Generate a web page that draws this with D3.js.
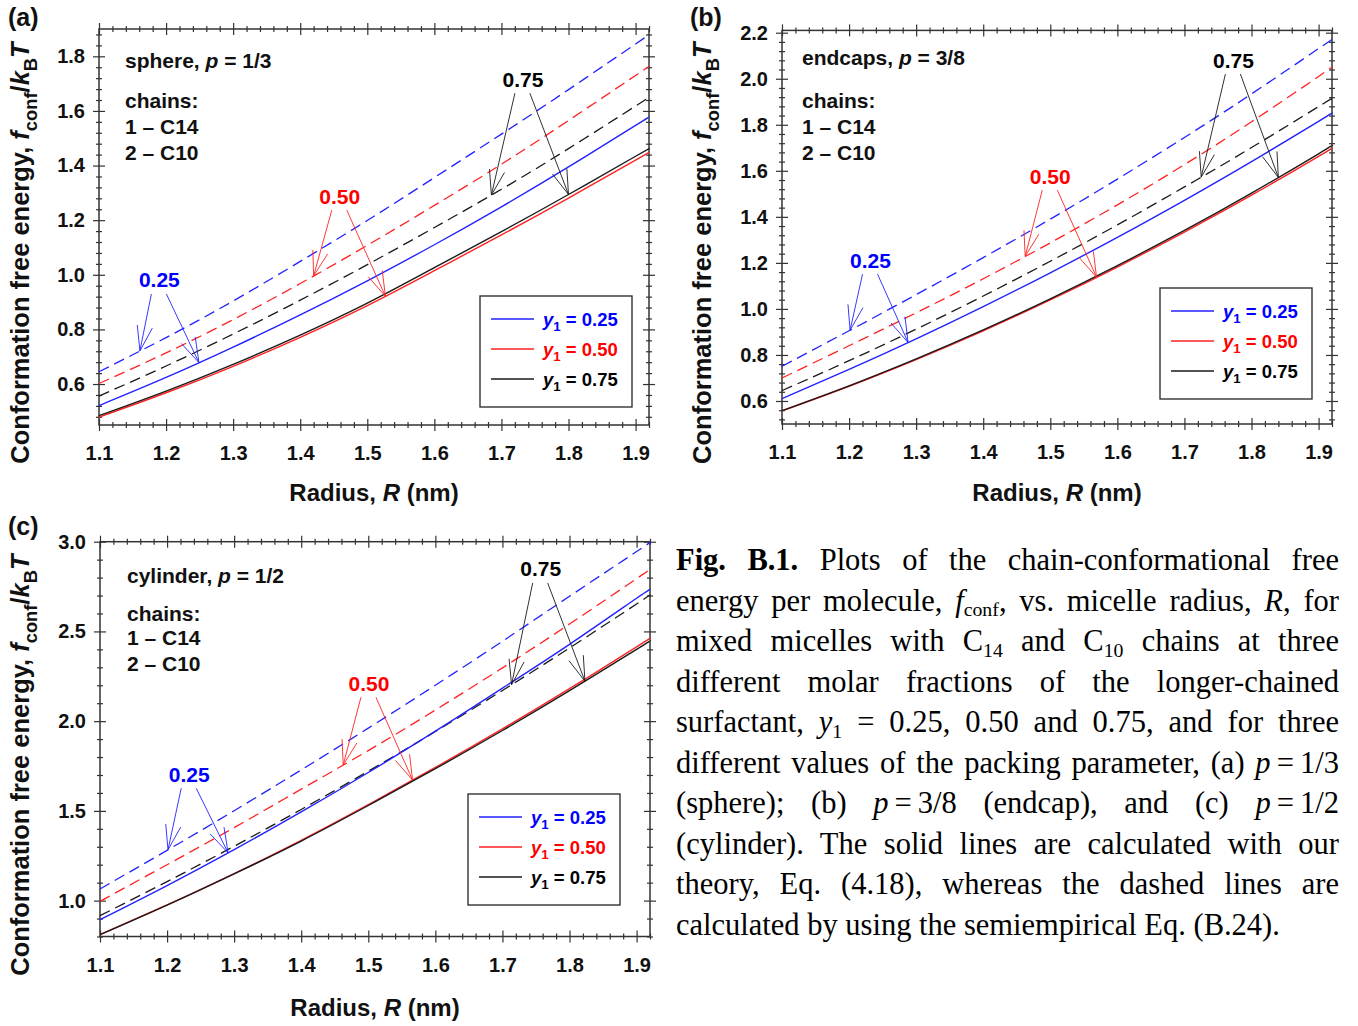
<!DOCTYPE html>
<html lang="en">
<head>
<meta charset="UTF-8">
<title>Fig. B.1 chain-conformational free energy</title>
<script src="https://d3js.org/d3.v7.min.js"></script>
<style>
  body { margin: 0; background: #fff; }
  #fig { position: absolute; left: 0; top: 0; }
  #caption {
    position: absolute; left: 676px; top: 540px; width: 663px;
    font-family: "Liberation Serif", "Times New Roman", serif; font-size: 30.5px; color: #000;
  }
  #caption .ln { height: 40.5px; line-height: 40.5px; text-align: justify; text-align-last: justify; }
  #caption .ln.last { text-align: left; text-align-last: left; }
  #caption .sb { font-size: 0.65em; position: relative; top: 0.28em; }
</style>
</head>
<body>
<svg id="fig"></svg>
<div id="caption"></div>
<script>
// radius grid, nm
const radius = [1.1, 1.2, 1.3, 1.4, 1.5, 1.6, 1.7, 1.8, 1.9, 1.92];
const y1Levels = ['0.25', '0.50', '0.75'];
const xTicks = [1.1, 1.2, 1.3, 1.4, 1.5, 1.6, 1.7, 1.8, 1.9];

// (a) sphere, p = 1/3
const sphereSolid25 = [0.521, 0.624, 0.735, 0.853, 0.978, 1.110, 1.249, 1.395, 1.547, 1.578];
const sphereSolid50 = [0.479, 0.568, 0.665, 0.771, 0.887, 1.015, 1.146, 1.281, 1.420, 1.448];
const sphereSolid75 = [0.484, 0.574, 0.672, 0.779, 0.896, 1.026, 1.158, 1.294, 1.434, 1.462];
const sphereDash25 = [0.645, 0.770, 0.904, 1.049, 1.199, 1.356, 1.515, 1.678, 1.845, 1.879];
const sphereDash50 = [0.602, 0.714, 0.836, 0.968, 1.108, 1.254, 1.405, 1.565, 1.730, 1.763];
const sphereDash75 = [0.556, 0.666, 0.783, 0.907, 1.037, 1.173, 1.313, 1.462, 1.618, 1.650];
const sphereYTicks = [0.6, 0.8, 1.0, 1.2, 1.4, 1.6, 1.8];
// label R, label value, R of dashed-arrow tip, R of solid-arrow tip
const sphereNotes = [[1.190, 0.981, 1.161, 1.249], [1.459, 1.288, 1.420, 1.527], [1.732, 1.716, 1.685, 1.800]];

// (b) endcaps, p = 3/8
const endSolid25 = [0.610, 0.737, 0.870, 1.010, 1.157, 1.311, 1.472, 1.640, 1.815, 1.851];
const endSolid50 = [0.557, 0.664, 0.780, 0.905, 1.039, 1.182, 1.334, 1.494, 1.663, 1.699];
const endSolid75 = [0.558, 0.666, 0.783, 0.909, 1.044, 1.188, 1.341, 1.503, 1.674, 1.710];
const endDash25 = [0.751, 0.905, 1.062, 1.223, 1.390, 1.564, 1.745, 1.934, 2.131, 2.171];
const endDash50 = [0.700, 0.840, 0.983, 1.131, 1.287, 1.452, 1.627, 1.813, 2.010, 2.051];
const endDash75 = [0.645, 0.775, 0.912, 1.056, 1.207, 1.365, 1.530, 1.701, 1.879, 1.915];
const endYTicks = [0.6, 0.8, 1.0, 1.2, 1.4, 1.6, 1.8, 2.0, 2.2];
const endNotes = [[1.232, 1.212, 1.2015, 1.288], [1.500, 1.577, 1.4626, 1.569], [1.773, 2.081, 1.725, 1.840]];

// (c) cylinder, p = 1/2
const cylSolid25 = [0.894, 1.084, 1.284, 1.494, 1.714, 1.944, 2.184, 2.428, 2.685, 2.733];
const cylSolid50 = [0.810, 0.976, 1.151, 1.336, 1.535, 1.742, 1.957, 2.181, 2.414, 2.463];
const cylSolid75 = [0.810, 0.975, 1.149, 1.332, 1.530, 1.735, 1.948, 2.170, 2.400, 2.447];
const cylDash25 = [1.065, 1.280, 1.501, 1.728, 1.961, 2.200, 2.445, 2.696, 2.945, 2.996];
const cylDash50 = [0.996, 1.200, 1.407, 1.621, 1.836, 2.062, 2.297, 2.541, 2.794, 2.846];
const cylDash75 = [0.916, 1.106, 1.303, 1.508, 1.721, 1.942, 2.171, 2.408, 2.653, 2.704];
const cylYTicks = [1.0, 1.5, 2.0, 2.5, 3.0];
const cylNotes = [[1.233, 1.704, 1.2014, 1.291], [1.501, 2.211, 1.4626, 1.566], [1.757, 2.848, 1.7136, 1.823]];

const chainLines = ['chains:', '1 \u2013 C14', '2 \u2013 C10'];

const captionLines = [
  '<b>Fig. B.1.</b> Plots of the chain-conformational free',
  'energy per molecule, <i>f</i><span class="sb">conf</span>, vs. micelle radius, <i>R</i>, for',
  'mixed micelles with C<span class="sb">14</span> and C<span class="sb">10</span> chains at three',
  'different molar fractions of the longer-chained',
  'surfactant, <i>y</i><span class="sb">1</span> = 0.25, 0.50 and 0.75, and for three',
  'different values of the packing parameter, (a) <i>p</i>\u2009=\u20091/3',
  '(sphere); (b) <i>p</i>\u2009=\u20093/8 (endcap), and (c) <i>p</i>\u2009=\u20091/2',
  '(cylinder). The solid lines are calculated with our',
  'theory, Eq. (4.18), whereas the dashed lines are',
  'calculated by using the semiempirical Eq. (B.24).'
];

const lineColors = ['#2222ff', '#ff2222', '#1a1a1a'];
const textColors = ['#0000ff', '#ff0000', '#000000'];
const FONT = 'Arial, "Liberation Sans", Helvetica, sans-serif';
const AXIS = '#333';

const panels = [
  { tag: '(a)', tagPos: [8, 26], shape: 'sphere', p: '1/3',
    xRange: [99, 649], yRange: [425, 29], yDomain: [0.45, 1.9], yTicks: sphereYTicks, yMinor: 0.04,
    solid: [sphereSolid25, sphereSolid50, sphereSolid75], dash: [sphereDash25, sphereDash50, sphereDash75],
    notes: sphereNotes, textX: 125, textY: [68, 108, 134, 160], legend: [480, 296],
    yTitleX: 29, xTitleY: 501 },
  { tag: '(b)', tagPos: [690, 26], shape: 'endcaps', p: '3/8',
    xRange: [782, 1332], yRange: [424, 30.4], yDomain: [0.5, 2.21], yTicks: endYTicks, yMinor: 0.04,
    solid: [endSolid25, endSolid50, endSolid75], dash: [endDash25, endDash50, endDash75],
    notes: endNotes, textX: 802, textY: [65, 108, 134, 160], legend: [1160, 288],
    yTitleX: 711, xTitleY: 501 },
  { tag: '(c)', tagPos: [8, 535], shape: 'cylinder', p: '1/2',
    xRange: [100, 650], yRange: [936.5, 541.7], yDomain: [0.8, 3.0], yTicks: cylYTicks, yMinor: 0.1,
    solid: [cylSolid25, cylSolid50, cylSolid75], dash: [cylDash25, cylDash50, cylDash75],
    notes: cylNotes, textX: 127, textY: [583, 621, 645, 671], legend: [468, 794],
    yTitleX: 29, xTitleY: 1016 }
];

const svg = d3.select('#fig').attr('width', 1358).attr('height', 1026)
    .attr('font-family', FONT);

// writes text parts with italic / subscript pieces into a text element
function rich(textSel, parts, size) {
  let shift = 0;
  parts.forEach(pt => {
    const ts = textSel.append('tspan').text(pt.t);
    if (pt.it) ts.attr('font-style', 'italic');
    const want = pt.sub ? size * 0.3 : 0;
    if (want !== shift) { ts.attr('dy', want - shift); shift = want; }
    if (pt.sub) ts.attr('font-size', size * 0.72);
  });
}

function steps(lo, hi, step, skip) {
  return d3.range(Math.ceil(lo / step - 1e-6), Math.floor(hi / step + 1e-6) + 1)
    .map(k => +(k * step).toFixed(3))
    .filter(v => !skip.some(s => Math.abs(s - v) < 1e-6));
}

// ticks crossing the frame: one axis outward, one inward
function tickPair(g, outFn, inFn, scale, values, len, at, labels) {
  const outer = g.append('g').attr('transform', at)
    .call(outFn(scale).tickValues(values).tickSize(len)
      .tickPadding(outFn === d3.axisBottom ? 15 : 8)
      .tickFormat(labels ? d3.format('.1f') : ''));
  const inner = g.append('g').attr('transform', at)
    .call(inFn(scale).tickValues(values).tickSize(len).tickFormat(''));
  [outer, inner].forEach(a => {
    a.select('.domain').remove();
    a.selectAll('line').attr('stroke', AXIS).attr('stroke-width', 1.2);
  });
  outer.attr('font-family', FONT).attr('font-size', 20).attr('font-weight', 'bold');
  outer.selectAll('text').attr('fill', '#111');
}

function arrow(g, x0, y0, x1, y1, color) {
  const a = g.append('g').attr('stroke', color).attr('stroke-width', 0.9).attr('fill', 'none');
  a.append('line').attr('x1', x0).attr('y1', y0).attr('x2', x1).attr('y2', y1);
  const ang = Math.atan2(y0 - y1, x0 - x1);
  [-0.3, 0.3].forEach(d => {
    a.append('line').attr('x1', x1).attr('y1', y1)
      .attr('x2', x1 + 26 * Math.cos(ang + d)).attr('y2', y1 + 26 * Math.sin(ang + d));
  });
}

panels.forEach(p => {
  const x = d3.scaleLinear().domain([1.1, 1.92]).range(p.xRange);
  const y = d3.scaleLinear().domain(p.yDomain).range(p.yRange);
  const [L, Rt] = p.xRange, [B, T] = p.yRange;
  const g = svg.append('g');

  // ticks on all four sides
  const xMinor = steps(1.1, 1.92, 0.02, xTicks);
  const yMinor = steps(p.yDomain[0], p.yDomain[1], p.yMinor, p.yTicks);
  tickPair(g, d3.axisBottom, d3.axisTop, x, xTicks, 6, `translate(0,${B})`, true);
  tickPair(g, d3.axisBottom, d3.axisTop, x, xMinor, 3, `translate(0,${B})`, false);
  tickPair(g, d3.axisTop, d3.axisBottom, x, xTicks, 6, `translate(0,${T})`, false);
  tickPair(g, d3.axisTop, d3.axisBottom, x, xMinor, 3, `translate(0,${T})`, false);
  tickPair(g, d3.axisLeft, d3.axisRight, y, p.yTicks, 6, `translate(${L},0)`, true);
  tickPair(g, d3.axisLeft, d3.axisRight, y, yMinor, 3, `translate(${L},0)`, false);
  tickPair(g, d3.axisRight, d3.axisLeft, y, p.yTicks, 6, `translate(${Rt},0)`, false);
  tickPair(g, d3.axisRight, d3.axisLeft, y, yMinor, 3, `translate(${Rt},0)`, false);

  g.append('rect').attr('x', L).attr('y', T).attr('width', Rt - L).attr('height', B - T)
    .attr('fill', 'none').attr('stroke', AXIS).attr('stroke-width', 1.5);

  // curves: dashed = semiempirical, solid = theory
  const line = d3.line().x((d, i) => x(radius[i])).y(d => y(d)).curve(d3.curveNatural);
  p.dash.forEach((arr, k) => {
    g.append('path').datum(arr).attr('d', line).attr('fill', 'none')
      .attr('stroke', lineColors[k]).attr('stroke-width', 1.3).attr('stroke-dasharray', '11,6');
  });
  [1, 2, 0].forEach(k => {
    g.append('path').datum(p.solid[k]).attr('d', line).attr('fill', 'none')
      .attr('stroke', lineColors[k]).attr('stroke-width', 1.4);
  });

  // value labels with arrows
  p.notes.forEach((n, k) => {
    const [lr, lv, dr, sr] = n;
    const cx = x(lr), cy = y(lv);
    g.append('text').attr('x', cx).attr('y', cy + 7.5).attr('text-anchor', 'middle')
      .attr('font-size', 21).attr('font-weight', 'bold').attr('fill', textColors[k]).text(y1Levels[k]);
    const onD = d3.scaleLinear().domain(radius).range(p.dash[k]);
    const onS = d3.scaleLinear().domain(radius).range(p.solid[k]);
    arrow(g, cx - 8, cy + 14, x(dr), y(onD(dr)), lineColors[k]);
    arrow(g, cx + 7, cy + 14, x(sr), y(onS(sr)), lineColors[k]);
  });

  // description block
  const tb = g.append('g').attr('font-size', 21).attr('font-weight', 'bold').attr('fill', '#111');
  rich(tb.append('text').attr('x', p.textX).attr('y', p.textY[0]),
    [{ t: p.shape + ', ' }, { t: 'p', it: true }, { t: ' = ' + p.p }], 21);
  chainLines.forEach((s, i) => {
    tb.append('text').attr('x', p.textX).attr('y', p.textY[i + 1]).text(s);
  });

  // legend
  const [lx, ly] = p.legend;
  const lg = g.append('g');
  lg.append('rect').attr('x', lx).attr('y', ly).attr('width', 152).attr('height', 111)
    .attr('fill', '#fff').attr('stroke', AXIS).attr('stroke-width', 1.4);
  y1Levels.forEach((lev, k) => {
    const ry = ly + 23 + k * 30;
    lg.append('line').attr('x1', lx + 11).attr('x2', lx + 54).attr('y1', ry).attr('y2', ry)
      .attr('stroke', lineColors[k]).attr('stroke-width', 1.4);
    rich(lg.append('text').attr('x', lx + 63).attr('y', ry + 6.5)
        .attr('font-size', 18.5).attr('font-weight', 'bold').attr('fill', textColors[k]),
      [{ t: 'y', it: true }, { t: '1', sub: true }, { t: ' = ' + lev }], 18.5);
  });

  // axis titles
  rich(g.append('text').attr('x', (L + Rt) / 2).attr('y', p.xTitleY).attr('text-anchor', 'middle')
      .attr('font-size', 24).attr('font-weight', 'bold').attr('fill', '#111'),
    [{ t: 'Radius, ' }, { t: 'R', it: true }, { t: ' (nm)' }], 24);
  const cyT = (B + T) / 2 + 26;
  rich(g.append('text').attr('transform', `translate(${p.yTitleX},${cyT}) rotate(-90)`)
      .attr('text-anchor', 'middle').attr('font-size', 25.5).attr('font-weight', 'bold').attr('fill', '#111'),
    [{ t: 'Conformation free energy, ' }, { t: 'f', it: true }, { t: 'conf', sub: true },
     { t: '/' }, { t: 'k', it: true }, { t: 'B', sub: true }, { t: 'T', it: true }], 25.5);

  svg.append('text').attr('x', p.tagPos[0]).attr('y', p.tagPos[1])
    .attr('font-size', 25).attr('font-weight', 'bold').attr('fill', '#111').text(p.tag);
});

// caption
d3.select('#caption').selectAll('div').data(captionLines).join('div')
  .attr('class', (d, i) => i === captionLines.length - 1 ? 'ln last' : 'ln')
  .html(d => d);
</script>
</body>
</html>
